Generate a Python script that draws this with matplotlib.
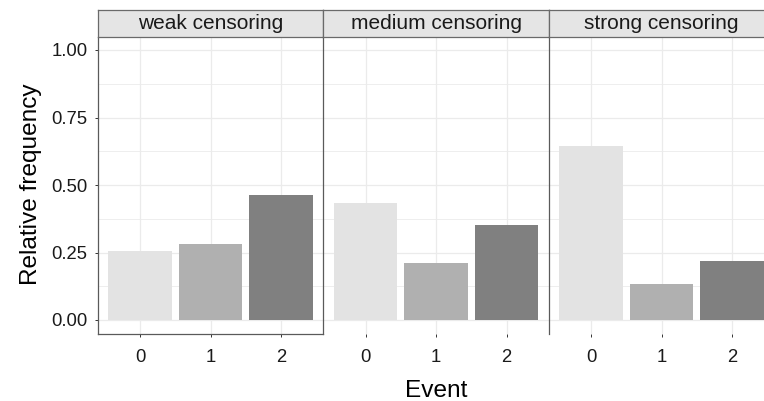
import matplotlib.pyplot as plt
import numpy as np

plt.rcParams['font.family'] = ['Liberation Sans', 'DejaVu Sans']

#------------------------------------------------------------------------#
# Data (relative frequency of each event, per censoring level)
#------------------------------------------------------------------------#
panels = ['weak censoring', 'medium censoring', 'strong censoring']
events = ['0', '1', '2']
weak = [0.254, 0.283, 0.463]
medium = [0.434, 0.210, 0.353]
strong = [0.643, 0.132, 0.220]
y_breaks = [0.00, 0.25, 0.50, 0.75, 1.00]
y_labels = ['0.00', '0.25', '0.50', '0.75', '1.00']

bar_colors = ['#E3E3E3', '#B0B0B0', '#808080']

#------------------------------------------------------------------------#
# Layout (pixels)
#------------------------------------------------------------------------#
W, H = 764, 401
fig = plt.figure(figsize=(W / 100, H / 100), dpi=100)

pw = 225.6
lefts = [97.7, 97.7 + pw, 97.7 + 2 * pw]
top_px, bot_px = 36.5, 333.5
strip_top = 9.5

line_col = '#5A5A5A'
grid_col = '#EBEBEB'

for i, (name, vals) in enumerate(zip(panels, [weak, medium, strong])):
    l = lefts[i]
    ax = fig.add_axes([l / W, 1 - bot_px / H, pw / W, (bot_px - top_px) / H])
    x = np.arange(len(events))
    ax.bar(x, vals, width=0.9, color=bar_colors, zorder=2)
    ax.set_xlim(-0.6, 2.6)
    ax.set_ylim(-0.05, 1.05)
    ax.set_xticks(x)
    ax.set_xticklabels(events)
    ax.set_yticks(y_breaks)
    ax.set_yticks([0.125, 0.375, 0.625, 0.875], minor=True)
    ax.grid(which='major', color=grid_col, lw=0.9, zorder=0)
    ax.grid(which='minor', axis='y', color=grid_col, lw=0.6, zorder=0)
    ax.set_axisbelow(True)
    ax.tick_params(which='minor', length=0)
    ax.tick_params(which='major', labelsize=13.3, length=2.4, width=0.7,
                   color='#333333', labelcolor='#1A1A1A', pad=5)
    ax.tick_params(axis='x', pad=8.5)
    if i == 0:
        ax.set_yticklabels(y_labels)
    else:
        ax.tick_params(axis='y', which='both', left=False, labelleft=False)
    for s in ['top', 'right']:
        ax.spines[s].set_visible(False)
    ax.spines['bottom'].set_visible(i == 0)
    ax.spines['left'].set_color(line_col)
    ax.spines['left'].set_linewidth(0.9)
    ax.spines['bottom'].set_color(line_col)
    ax.spines['bottom'].set_linewidth(0.9)

    # facet strip
    sax = fig.add_axes([l / W, 1 - top_px / H, pw / W, (top_px - strip_top) / H])
    sax.set_facecolor('#E5E5E5')
    sax.set_xticks([])
    sax.set_yticks([])
    for s in sax.spines.values():
        s.set_color('#6A6A6A')
        s.set_linewidth(0.9)
    sax.text(0.5, 0.27, name, ha='center', va='baseline', fontsize=15,
             color='#1A1A1A', transform=sax.transAxes)

fig.text(436 / W, 1 - 396.7 / H, 'Event', ha='center', va='baseline',
         fontsize=17.6, color='#000000')
fig.text(31 / W, 1 - 184 / H, 'Relative frequency', ha='center', va='center',
         rotation=90, fontsize=17.6, color='#000000')

plt.savefig('out.png', dpi=100)
